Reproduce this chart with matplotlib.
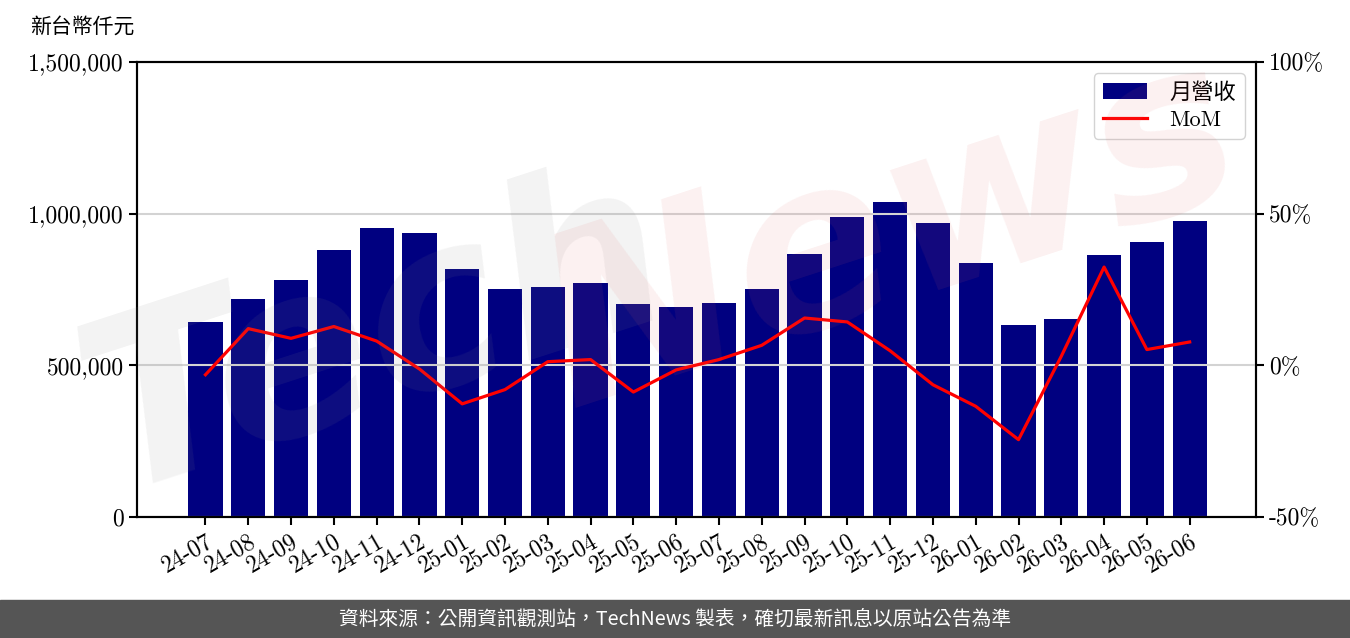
import matplotlib
matplotlib.use("Agg")
import matplotlib.pyplot as plt
from matplotlib.ticker import FuncFormatter, MultipleLocator

plt.rcParams['font.family'] = ['cmr10', 'Noto Sans CJK TC', 'DejaVu Sans']
plt.rcParams['axes.formatter.use_mathtext'] = True

months = ['24-07', '24-08', '24-09', '24-10', '24-11', '24-12',
          '25-01', '25-02', '25-03', '25-04', '25-05', '25-06',
          '25-07', '25-08', '25-09', '25-10', '25-11', '25-12',
          '26-01', '26-02', '26-03', '26-04', '26-05', '26-06']
revenue = [643000, 719000, 781000, 880000, 953000, 936000,
           818000, 752000, 758000, 771000, 702000, 692000,
           705000, 752000, 867000, 989000, 1039000, 969000,
           837000, 633000, 653000, 864000, 907000, 976000]
mom = [-3.1, 12.1, 8.9, 12.8, 8.0, -1.2,
       -12.7, -8.0, 1.2, 1.9, -8.8, -1.5,
       1.9, 6.6, 15.6, 14.3, 4.8, -6.4,
       -13.5, -24.5, 3.0, 32.4, 5.2, 7.7]

fig = plt.figure(figsize=(13.5, 6.38), dpi=100)
ax = fig.add_axes([137 / 1350, 1 - 517 / 638, (1256 - 137) / 1350, (517 - 62) / 638])
ax2 = ax.twinx()

x = list(range(len(months)))
bars = ax.bar(x, revenue, width=0.8, color='#000080', label='月營收', zorder=2)
line, = ax2.plot(x, mom, color='red', linewidth=2.3, label='MoM', zorder=3)

ax.set_xlim(-1.6, 24.55)
ax.set_ylim(0, 1500000)
ax2.set_ylim(-50, 100)
ax.yaxis.set_major_locator(MultipleLocator(500000))
ax2.yaxis.set_major_locator(MultipleLocator(50))
ax.yaxis.set_major_formatter(FuncFormatter(lambda v, p: f"{int(v):,}"))
ax2.yaxis.set_major_formatter(FuncFormatter(lambda v, p: f"{int(v)}%"))
ax2.grid(axis='y', color='#d3d3d3', linewidth=1.5, zorder=0)
ax.set_axisbelow(True)
ax2.set_axisbelow(True)

ax.set_xticks(x)
ax.set_xticklabels(months, rotation=30, ha='right', rotation_mode='anchor')
for a in (ax, ax2):
    a.tick_params(labelsize=17, width=1.5, length=6)
    for s in a.spines.values():
        s.set_linewidth(1.5)

fig.text(30 / 1350, 1 - 27 / 638, '新台幣仟元', fontsize=15, va='center', ha='left')

leg = ax2.legend([bars, line], ['月營收', 'MoM'], loc='upper right', fontsize=16,
                 frameon=True, fancybox=True, framealpha=0.85, edgecolor='#cccccc',
                 handlelength=2.0, handletextpad=1.0, borderaxespad=0.5,
                 labelspacing=0.35)
leg.set_zorder(10)

# watermark
fig.text(0.28, 0.47, 'Tech', fontsize=170, color='#888888', alpha=0.1, rotation=18,
         ha='center', va='center', fontweight='bold', style='italic',
         family='DejaVu Sans', zorder=20)
fig.text(0.66, 0.63, 'News', fontsize=170, color='#e06060', alpha=0.09, rotation=18,
         ha='center', va='center', fontweight='bold', style='italic',
         family='DejaVu Sans', zorder=20)

# footer band
fig.patches.append(plt.Rectangle((0, 0), 1, 38 / 638, transform=fig.transFigure,
                                 color='#555555', zorder=0))
fig.text(0.5, 19 / 638, '資料來源：公開資訊觀測站，TechNews 製表，確切最新訊息以原站公告為準',
         color='white', fontsize=14.2, ha='center', va='center',
         family=['Noto Sans CJK TC', 'DejaVu Sans'])

fig.savefig('out.png', dpi=100)
